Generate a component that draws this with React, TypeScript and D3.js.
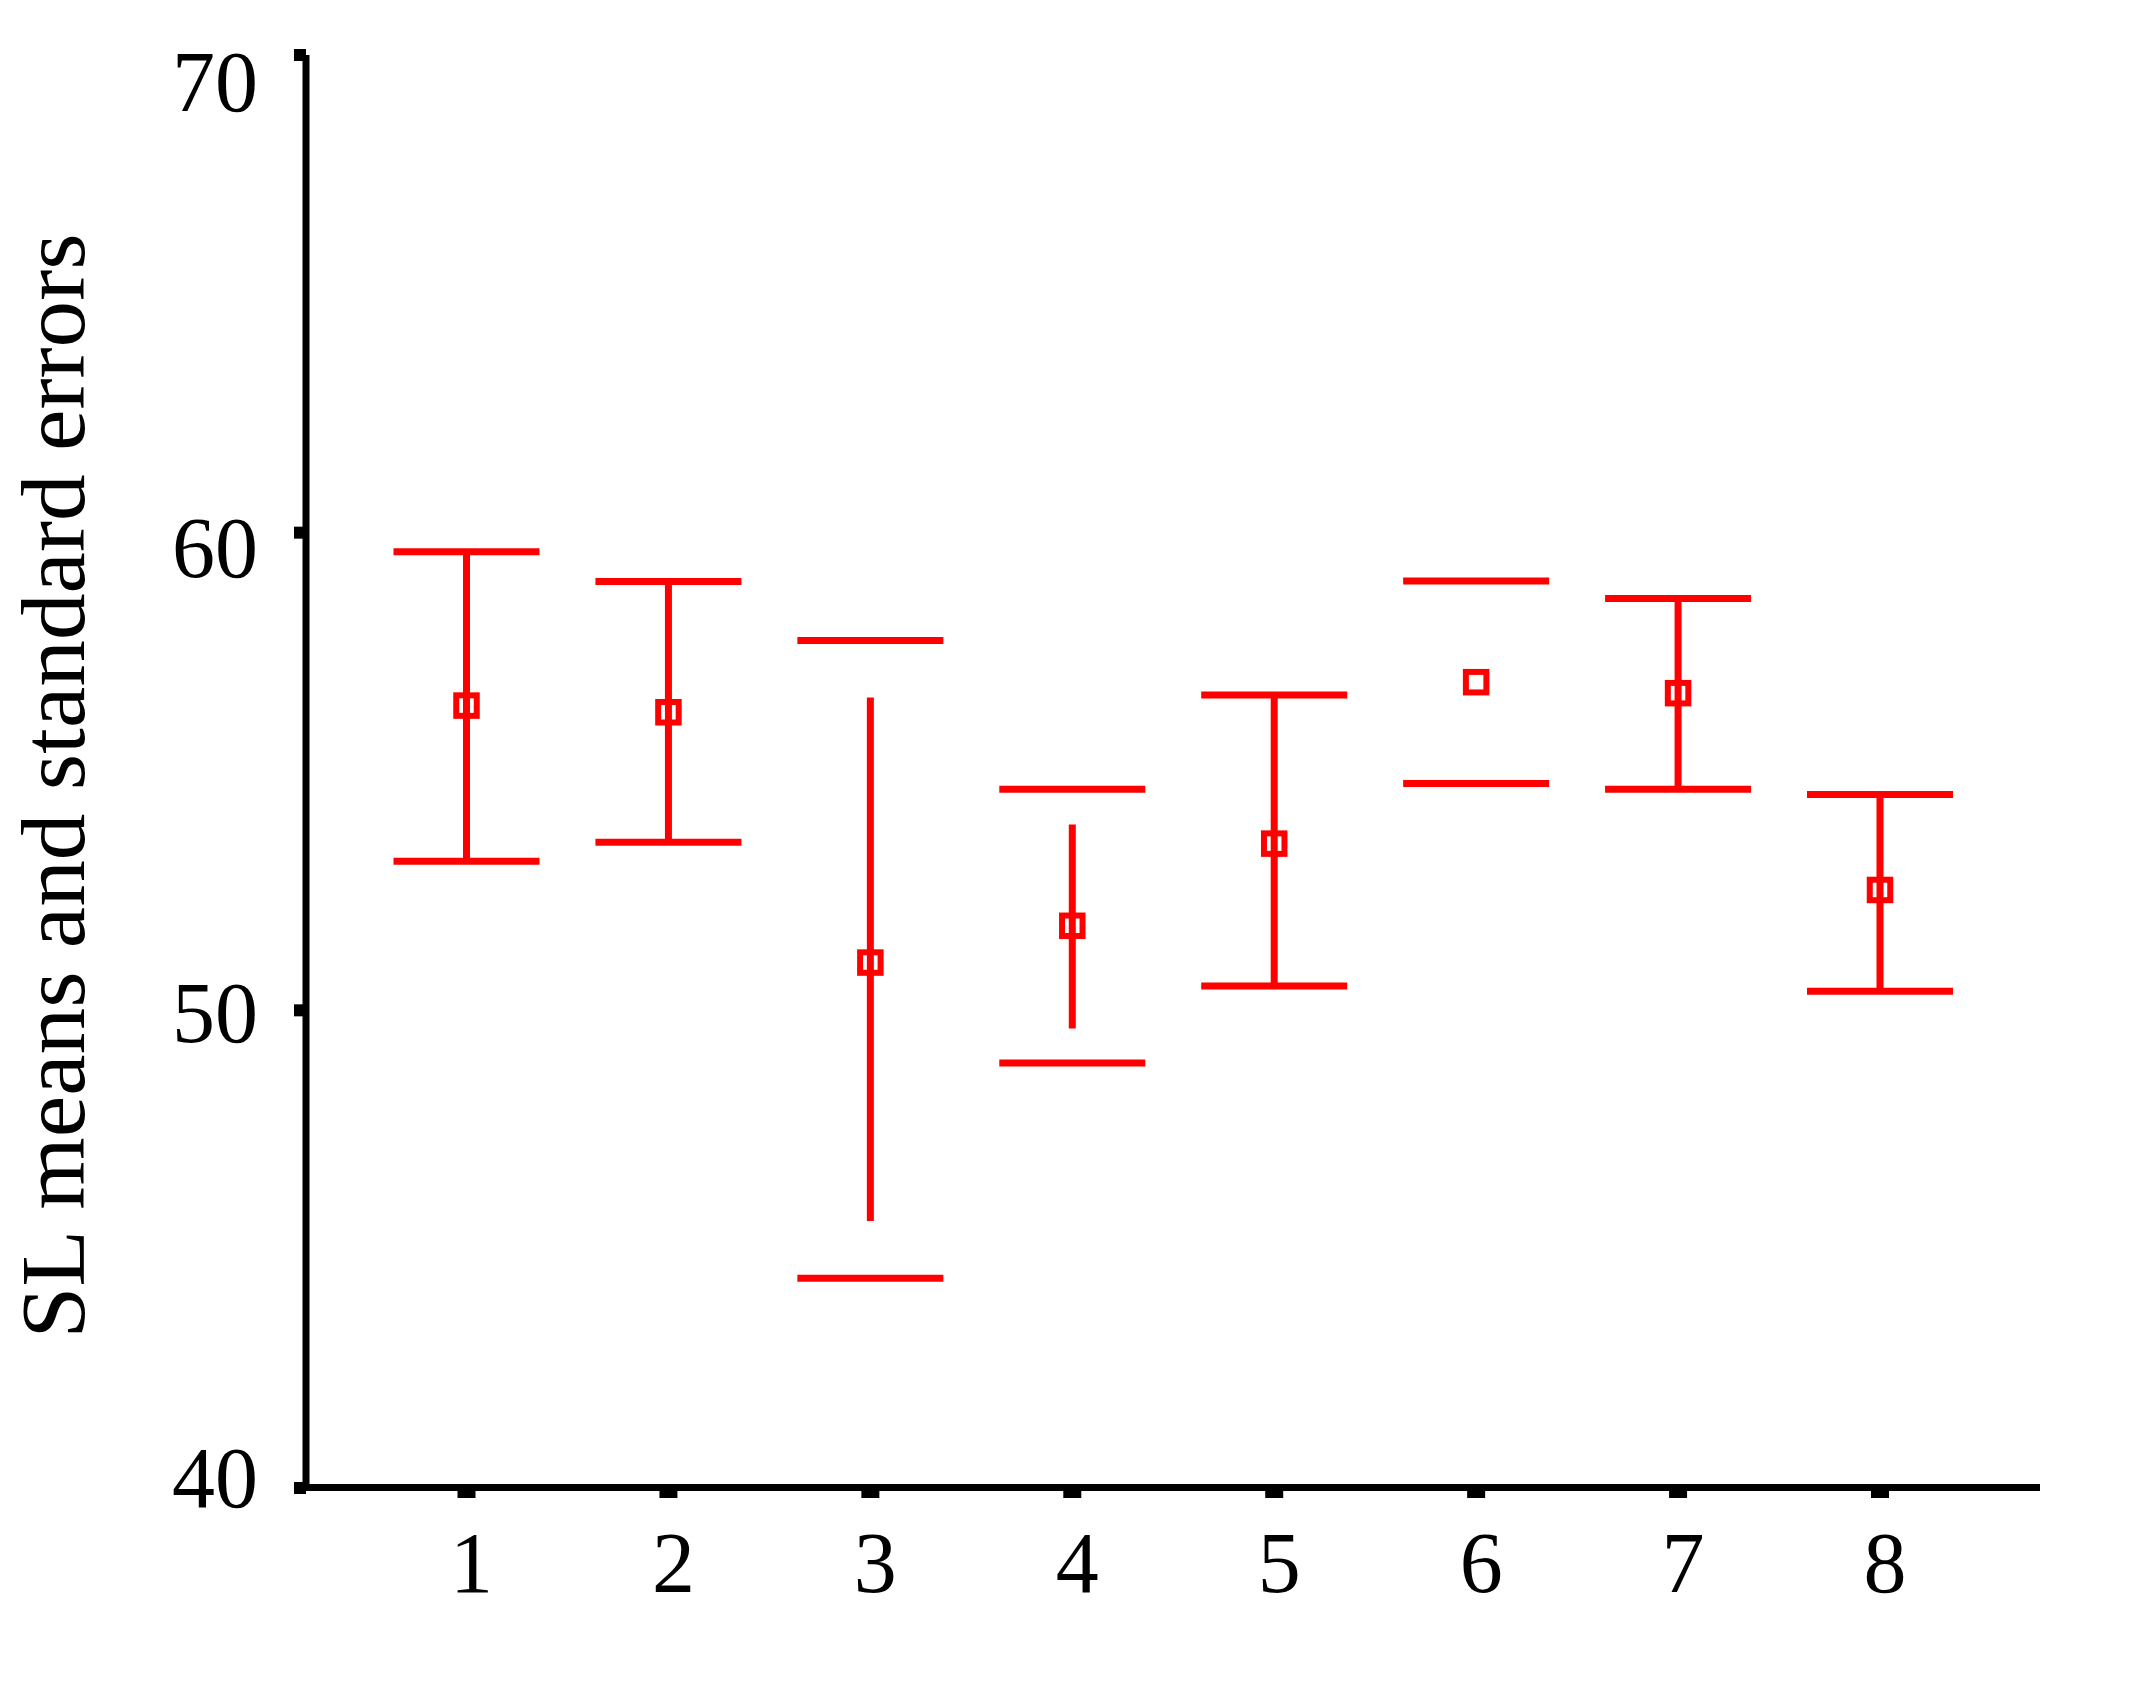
import React from "react";
import * as d3 from "d3";

const categories = [1, 2, 3, 4, 5, 6, 7, 8];
const means = [56.38, 56.24, 51.0, 51.77, 53.49, 56.87, 56.64, 52.52];
const capHigh = [59.6, 58.98, 57.74, 54.63, 56.6, 58.99, 58.62, 54.52];
const capLow = [53.12, 53.52, 44.39, 48.9, 50.51, 54.75, 54.63, 50.4];
const whiskerHigh: (number | null)[] = [59.6, 58.98, 56.55, 53.89, 56.6, null, 58.62, 54.52];
const whiskerLow: (number | null)[] = [53.12, 53.52, 45.59, 49.62, 50.51, null, 54.63, 50.4];
const yTicks = [40, 50, 60, 70];
const yTitle = "SL means and standard errors";

const W = 2144;
const H = 1694;
const RED = "#ff0000";
const FONT = "'Liberation Serif', 'Times New Roman', serif";

export default function App() {
  const x = d3.scaleLinear().domain([1, 8]).range([466.5, 1880]);
  const y = d3.scaleLinear().domain([40, 70]).range([1488, 55]);
  const yLabel = d3.scaleLinear().domain([40, 70]).range([1479, 83]);
  const axisX = 306;
  const axisY = 1487.5;
  const xEnd = 2040;
  const capHalf = 73;
  const box = 20.5;

  return (
    <svg
      width={W}
      height={H}
      viewBox={`0 0 ${W} ${H}`}
      style={{ position: "absolute", left: 0, top: 0, background: "#fff" }}
    >
      <rect x={0} y={0} width={W} height={H} fill="#fff" />
      {/* y axis */}
      <line x1={axisX} x2={axisX} y1={y(70)} y2={axisY + 3.5} stroke="#000" strokeWidth={7} />
      {yTicks.map((t) => (
        <g key={t}>
          <line x1={294} x2={axisX} y1={y(t)} y2={y(t)} stroke="#000" strokeWidth={12} />
          <text
            x={258}
            y={yLabel(t)}
            dy="0.33em"
            textAnchor="end"
            fontFamily={FONT}
            fontSize={86}
            fill="#000"
          >
            {t}
          </text>
        </g>
      ))}
      {/* x axis */}
      <line x1={axisX - 3.5} x2={xEnd} y1={axisY} y2={axisY} stroke="#000" strokeWidth={7} />
      {categories.map((c) => (
        <g key={c}>
          <line x1={x(c)} x2={x(c)} y1={axisY} y2={1498} stroke="#000" strokeWidth={18} />
          <text
            x={x(c) + 5}
            y={1592}
            textAnchor="middle"
            fontFamily={FONT}
            fontSize={86}
            fill="#000"
          >
            {c}
          </text>
        </g>
      ))}
      {/* y title */}
      <text
        transform={`translate(84, 786) rotate(-90)`}
        textAnchor="middle"
        fontFamily={FONT}
        fontSize={92}
        fill="#000"
        textLength={1105}
        lengthAdjust="spacingAndGlyphs"
      >
        {yTitle}
      </text>
      {/* error bars */}
      {categories.map((c, i) => {
        const cx = x(c);
        const wh = whiskerHigh[i];
        const wl = whiskerLow[i];
        return (
          <g key={c}>
            {wh !== null && wl !== null && (
              <line x1={cx} x2={cx} y1={y(wh)} y2={y(wl)} stroke={RED} strokeWidth={7} />
            )}
            <line x1={cx - capHalf} x2={cx + capHalf} y1={y(capHigh[i])} y2={y(capHigh[i])} stroke={RED} strokeWidth={7} />
            <line x1={cx - capHalf} x2={cx + capHalf} y1={y(capLow[i])} y2={y(capLow[i])} stroke={RED} strokeWidth={7} />
            <rect
              x={cx - box / 2}
              y={y(means[i]) - box / 2}
              width={box}
              height={box}
              fill="none"
              stroke={RED}
              strokeWidth={6}
            />
          </g>
        );
      })}
    </svg>
  );
}
